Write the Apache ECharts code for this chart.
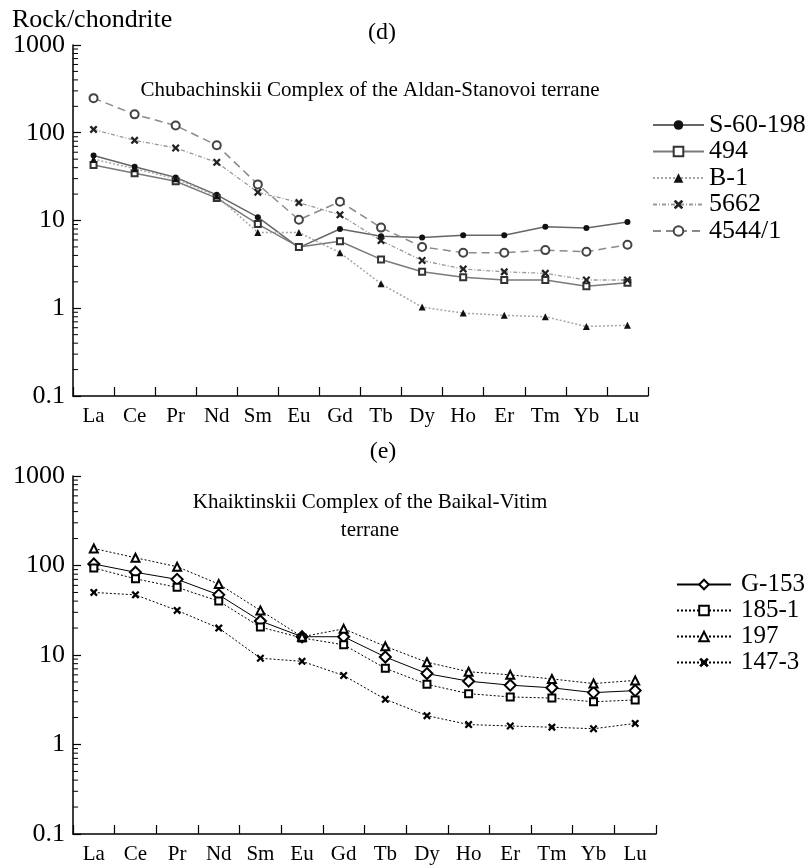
<!DOCTYPE html>
<html>
<head>
<meta charset="utf-8">
<script src="https://cdn.jsdelivr.net/npm/echarts@6/dist/echarts.min.js"></script>
<style>
html,body{margin:0;padding:0;background:#fff;}
#chart{width:807px;height:865px;}
</style>
</head>
<body>
<div id="chart"></div>
<script>
// ---- data ----
var elements = ['La','Ce','Pr','Nd','Sm','Eu','Gd','Tb','Dy','Ho','Er','Tm','Yb','Lu'];

// (d) Chubachinskii Complex of the Aldan-Stanovoi terrane
var namesD = ['S-60-198','494','B-1','5662','4544/1'];
var dS60198 = [55, 41, 31, 19.6, 10.9, 4.9, 8.0, 6.6, 6.4, 6.8, 6.8, 8.5, 8.2, 9.6];
var d494    = [43, 34.5, 28, 18, 9.1, 5.0, 5.8, 3.6, 2.6, 2.25, 2.1, 2.1, 1.78, 1.95];
var dB1     = [50, 39, 30, 19, 7.3, 7.3, 4.3, 1.9, 1.03, 0.88, 0.83, 0.8, 0.62, 0.64];
var d5662   = [109, 82, 67, 46, 21, 16, 11.6, 5.9, 3.5, 2.8, 2.6, 2.5, 2.1, 2.1];
var d4544   = [248, 162, 121, 72, 25.8, 10.2, 16.4, 8.3, 5.0, 4.3, 4.3, 4.6, 4.4, 5.3];

// (e) Khaiktinskii Complex of the Baikal-Vitim terrane
var namesE = ['G-153','185-1','197','147-3'];
var eG153 = [104, 84, 70, 47, 24, 16, 16, 9.5, 6.2, 5.1, 4.6, 4.3, 3.8, 4.0];
var e1851 = [94, 71, 57, 40, 20.5, 15.5, 13, 7.1, 4.7, 3.7, 3.4, 3.3, 3.0, 3.15];
var e197  = [155, 122, 97, 62, 31.5, 16, 19.6, 12.5, 8.3, 6.5, 6.0, 5.4, 4.8, 5.2];
var e1473 = [50, 47, 31.5, 20, 9.2, 8.5, 5.9, 3.2, 2.1, 1.67, 1.61, 1.56, 1.5, 1.72];

// y axis ticks
var yTickLabels = ['0.1','1','10','100','1000'];
var minorMultipliers = [2,3,4,5,6,7,8,9];
var minorDecades = [0.1, 1, 10, 100];

// ---- build ----
var FONT = "'Liberation Serif', 'Times New Roman', serif";
var minorTicks = [];
minorDecades.forEach(function(d){ minorMultipliers.forEach(function(m){ minorTicks.push([0, +(m*d).toPrecision(3)]); }); });

var crossPath = 'path://M0,2 L2,0 L5,3 L8,0 L10,2 L7,5 L10,8 L8,10 L5,7 L2,10 L0,8 L3,5 Z';

function yAxisCfg(gi){
  return {
    type:'log', logBase:10, min:0.1, max:1000, interval:1, gridIndex:gi,
    axisLine:{show:true, lineStyle:{color:'#000', width:1.5}},
    axisTick:{show:true, inside:true, length:8, lineStyle:{color:'#000', width:1.2}},
    minorTick:{show:false},
    splitLine:{show:false},
    axisLabel:{color:'#000', fontFamily:FONT, fontSize:26, margin:8,
      formatter:function(v){ var s = v < 1 ? v.toFixed(1) : String(Math.round(v)); return yTickLabels.indexOf(s) >= 0 ? s : ''; }}
  };
}
function xAxisCfg(gi){
  return {
    type:'category', data:elements, boundaryGap:true, gridIndex:gi,
    axisLine:{show:true, lineStyle:{color:'#000', width:1.5}},
    axisTick:{show:true, inside:true, length:9, alignWithLabel:false, lineStyle:{color:'#000', width:1.2}},
    splitLine:{show:false},
    axisLabel:{color:'#000', fontFamily:FONT, fontSize:21, margin:10, interval:0}
  };
}
function minorTickSeries(gi){
  return {
    type:'custom', name:'minor'+gi, xAxisIndex:gi, yAxisIndex:gi, silent:true, clip:false, z:5,
    data: minorTicks,
    renderItem:function(params, api){
      var p = api.coord([api.value(0), api.value(1)]);
      var x0 = params.coordSys.x;
      return {type:'line', shape:{x1:x0, y1:p[1], x2:x0+5, y2:p[1]}, style:{stroke:'#000', lineWidth:1}};
    }
  };
}
function lineSeries(name, data, gi, symbol, size, lineColor, lineType, lineWidth, markerColor, borderWidth){
  return {
    type:'line', name:name, data:data, xAxisIndex:gi, yAxisIndex:gi,
    symbol:symbol, symbolSize:size, showAllSymbol:true,
    lineStyle:{color:lineColor, type:lineType, width:lineWidth},
    itemStyle:{color:markerColor, borderColor:markerColor, borderWidth:borderWidth},
    emphasis:{disabled:true}, animation:false, z:3
  };
}

var series = [
  lineSeries('S-60-198', dS60198, 0, 'circle', 6, '#666', 'solid', 1.5, '#111', 0),
  lineSeries('494', d494, 0, 'emptyRect', 6, '#7a7a7a', 'solid', 1.5, '#333', 2.2),
  lineSeries('B-1', dB1, 0, 'triangle', 7, '#a5a5a5', [2,2], 1.5, '#111', 0),
  lineSeries('5662', d5662, 0, crossPath, 8, '#999', [4,2,1,2], 1.3, '#222', 0),
  lineSeries('4544/1', d4544, 0, 'emptyCircle', 8, '#8a8a8a', [8,5], 1.5, '#444', 2),
  lineSeries('G-153', eG153, 1, 'emptyDiamond', 11, '#000', 'solid', 1, '#000', 2),
  lineSeries('185-1', e1851, 1, 'emptyRect', 7, '#000', [2,2], 1, '#000', 2),
  lineSeries('197', e197, 1, 'emptyTriangle', 8, '#000', [2,2], 1, '#000', 1.8),
  lineSeries('147-3', e1473, 1, crossPath, 8, '#000', [2,2], 1, '#000', 0),
  minorTickSeries(0),
  minorTickSeries(1)
];

function txt(s, x, y, size, align){
  return {type:'text', x:x, y:y, silent:true,
    style:{text:s, font:size+'px ' + FONT, fill:'#000', textAlign:align || 'center', textVerticalAlign:'middle', lineHeight:28}};
}

var option = {
  backgroundColor:'#fff',
  animation:false,
  graphic:[
    txt('Rock/chondrite', 12, 20, 26, 'left'),
    txt('(d)', 382, 33, 24),
    txt('Chubachinskii Complex of the Aldan-Stanovoi terrane', 370, 90, 21),
    txt('(e)', 383, 452, 24),
    txt('Khaiktinskii Complex of the Baikal-Vitim\nterrane', 370, 516, 21)
  ],
  grid:[
    {left:73, top:45, width:575, height:351, containLabel:false},
    {left:73, top:476, width:583, height:358, containLabel:false}
  ],
  xAxis:[xAxisCfg(0), xAxisCfg(1)],
  yAxis:[yAxisCfg(0), yAxisCfg(1)],
  legend:[
    {data:namesD, orient:'vertical', left:652, top:112, padding:0, itemWidth:51, itemHeight:12, itemGap:0.5,
     selectedMode:false, textStyle:{fontFamily:FONT, fontSize:26, lineHeight:26, color:'#000'}},
    {data:namesE, orient:'vertical', left:676, top:572, padding:0, itemWidth:54, itemHeight:12, itemGap:1,
     selectedMode:false, textStyle:{fontFamily:FONT, fontSize:25, lineHeight:25, color:'#000', padding:[0,0,0,5]}}
  ],
  series:series
};

var chart = echarts.init(document.getElementById('chart'), null, {renderer:'canvas'});
chart.setOption(option);
</script>
</body>
</html>
